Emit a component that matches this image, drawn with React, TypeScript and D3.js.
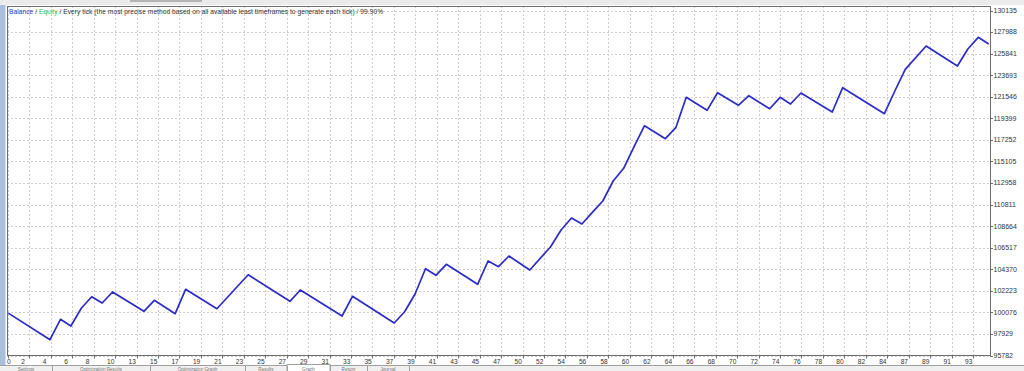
import React from "react";
import * as d3 from "d3";

// ---- data ----
const trades = [0,4,5,6,7,8,9,10,13,14,16,17,20,23,27,28,32,33,37,38,39,40,41,42,45,46,47,48,50,52,53,54,55,56,57,58,59,60,61,63,64,65,67,68,70,71,73,74,75,76,79,80,84,85,86,88,91,92,93,94];
const balance = [100000,97355,99386,98719,100482,101637,101009,102105,100183,101278,99944,102374,100442,103827,101179,102304,99715,101677,99018,100143,101906,104425,103767,104863,102871,105191,104624,105689,104295,106615,108278,109473,108875,110040,111166,113157,114422,116572,118663,117369,118464,121491,120196,121949,120694,121650,120356,121491,120824,121919,120027,122447,119858,122118,124279,126599,124608,126300,127465,126798];
const yTickLabels = [130135,127988,125841,123693,121546,119399,117252,115105,112958,110811,108664,106517,104370,102223,100076,97929,95782];
const xTickLabels = ["0","2","4","6","8","10","13","15","17","19","21","23","25","27","29","31","33","35","37","39","41","43","45","47","50","52","54","56","58","60","62","64","66","68","70","72","74","76","78","80","82","84","87","89","91","93"];
const tabs = ["Settings","Optimization Results","Optimization Graph","Results","Graph","Report","Journal"];

const W = 1024, H = 371;
const L = 7, T = 6, R = 990, B = 355.5;
const FONT = "'Liberation Sans', Arial, sans-serif";

export default function App() {
  const x = d3.scaleLinear().domain([0, 94]).range([8.3, 988.7]);
  const y = d3.scaleLinear().domain([95782, 130135]).range([B, 10.5]);
  const xg = d3.scalePoint<string>().domain(xTickLabels).range([7.85, 973]);
  const line = d3.line<number>().x((_, i) => x(trades[i])).y((d) => y(d));
  const tabX = [0, 52, 150, 245, 287, 330, 367, 409];

  return (
    <svg width={W} height={H} style={{ position: "absolute", left: 0, top: 0, display: "block" }} fontFamily={FONT}>
      <rect x={0} y={0} width={W} height={H} fill="#ffffff" />
      {/* top strip */}
      <rect x={0} y={0} width={W} height={5} fill="#ebebeb" />
      <rect x={130} y={0} width={72} height={2} fill="#b4b4b4" />
      {/* left strip */}
      <rect x={0} y={5} width={5.5} height={360} fill="#a9bfdc" />
      {/* grid */}
      {yTickLabels.map((v) => (
        <line key={"h" + v} x1={L} x2={R} y1={Math.round(y(v)) + 0.5} y2={Math.round(y(v)) + 0.5} stroke="#cfcfcf" strokeDasharray="2,2" />
      ))}
      {xTickLabels.map((t) => (
        <line key={"v" + t} x1={Math.round(xg(t)!) + 0.5} x2={Math.round(xg(t)!) + 0.5} y1={T} y2={B} stroke="#cfcfcf" strokeDasharray="2,2" />
      ))}
      {/* frame */}
      <rect x={L + 0.5} y={T + 0.5} width={R - L} height={B - T - 0.5} fill="none" stroke="#6e6e6e" strokeWidth={1} />
      {/* balance line */}
      <path d={line(balance) || ""} fill="none" stroke="#2b2bc6" strokeWidth={1.7} strokeLinejoin="round" />
      {/* title */}
      <text x={9} y={14} fontSize={6.6} fill="#333" textLength={374} lengthAdjust="spacing">
        <tspan fill="#3434b4">Balance</tspan>
        <tspan> / </tspan>
        <tspan fill="#3cc03c">Equity</tspan>
        <tspan> / Every tick (the most precise method based on all available least timeframes to generate each tick) / 99.90%</tspan>
      </text>
      {/* y axis */}
      {yTickLabels.map((v) => (
        <g key={"yl" + v}>
          <line x1={R} x2={R + 3} y1={Math.round(y(v)) + 0.5} y2={Math.round(y(v)) + 0.5} stroke="#6e6e6e" />
          <text x={993.5} y={y(v) + 2.4} fontSize={7} fill="#333">{v}</text>
        </g>
      ))}
      {/* x axis */}
      {xTickLabels.map((t) => {
        const gx = xg(t)!;
        return (
          <g key={"xl" + t}>
            <line x1={Math.round(gx) + 0.5} x2={Math.round(gx) + 0.5} y1={B} y2={B + 3} stroke="#6e6e6e" />
            <text x={Math.max(gx - 8, 7)} y={363.5} fontSize={6.6} fill="#333">{t}</text>
          </g>
        );
      })}
      {/* bottom tab bar */}
      <rect x={0} y={365.5} width={W} height={6} fill="#f0f0f0" />
      <line x1={0} x2={W} y1={365.5} y2={365.5} stroke="#a0a0a0" />
      <rect x={287} y={364.5} width={43} height={7} fill="#ffffff" stroke="#a0a0a0" />
      {tabs.map((tb, i) => (
        <g key={tb}>
          <line x1={tabX[i + 1] + 0.5} x2={tabX[i + 1] + 0.5} y1={366} y2={371} stroke="#a0a0a0" />
          <text x={(tabX[i] + tabX[i + 1]) / 2} y={370.6} fontSize={4.6} fill="#777" textAnchor="middle">{tb}</text>
        </g>
      ))}
    </svg>
  );
}
